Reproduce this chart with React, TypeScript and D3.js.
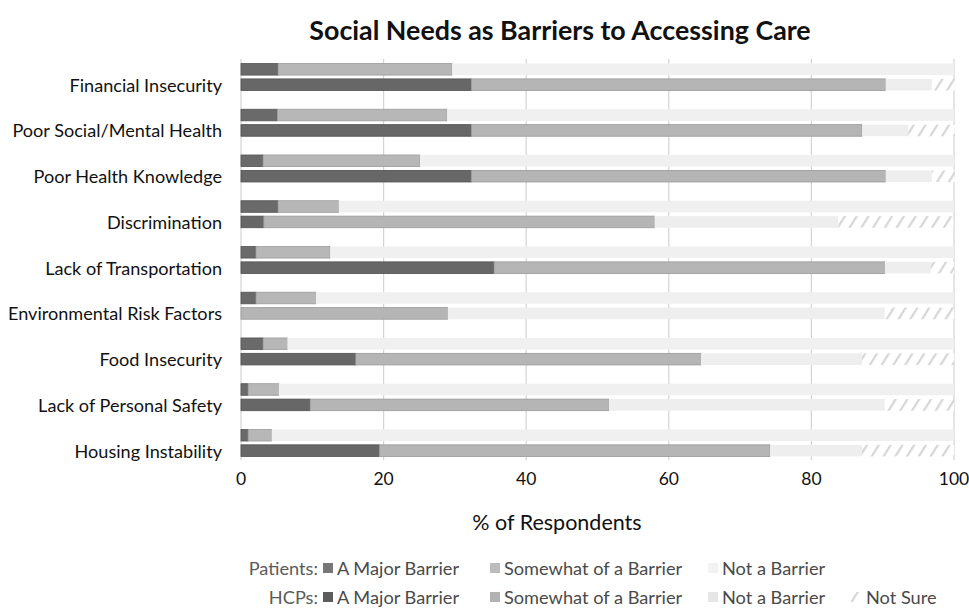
import React from "react";
import * as d3 from "d3";

const categories = [
  "Financial Insecurity",
  "Poor Social/Mental Health",
  "Poor Health Knowledge",
  "Discrimination",
  "Lack of Transportation",
  "Environmental Risk Factors",
  "Food Insecurity",
  "Lack of Personal Safety",
  "Housing Instability",
];

const patientMajor = [5.2, 5.1, 3.1, 5.2, 2.1, 2.1, 3.1, 1.0, 1.0];
const patientSomewhat = [24.4, 23.8, 22.0, 8.5, 10.4, 8.4, 3.4, 4.3, 3.3];
const patientNot = [70.4, 71.1, 74.9, 86.3, 87.5, 89.5, 93.5, 94.7, 95.7];

const hcpMajor = [32.3, 32.3, 32.3, 3.2, 35.5, 0, 16.1, 9.7, 19.4];
const hcpSomewhat = [58.1, 54.8, 58.1, 54.8, 54.8, 29.0, 48.4, 41.9, 54.8];
const hcpNot = [6.5, 6.5, 6.5, 25.8, 6.5, 61.3, 22.6, 38.7, 12.9];
const hcpNotSure = [3.2, 6.5, 3.2, 16.1, 3.2, 9.7, 12.9, 9.7, 12.9];

const xTicks = [0, 20, 40, 60, 80, 100];

const seriesKeys = ["major", "somewhat", "not", "notSure"];

const patientFill: Record<string, string> = {
  major: "#6a6a6a",
  somewhat: "#b7b7b7",
  not: "#f0f0f0",
};
const patientStroke: Record<string, string> = {
  major: "#555555",
  somewhat: "#9c9c9c",
  not: "none",
};
const hcpFill: Record<string, string> = {
  major: "#676767",
  somewhat: "#b5b5b5",
  not: "#eeeeee",
  notSure: "url(#hatch)",
};
const hcpStroke: Record<string, string> = {
  major: "#505050",
  somewhat: "#9a9a9a",
  not: "none",
  notSure: "none",
};

const FONT = "Lato, 'Open Sans', sans-serif";

export default function App() {
  const W = 969;
  const H = 608;
  const x = d3.scaleLinear().domain([0, 100]).range([241, 954]);
  const y = d3
    .scaleBand<string>()
    .domain(categories)
    .range([61.83, 473.5])
    .paddingInner(0);

  const patientRows = categories.map((c, i) => ({
    cat: c,
    major: patientMajor[i],
    somewhat: patientSomewhat[i],
    not: patientNot[i],
    notSure: 0,
  }));
  const hcpRows = categories.map((c, i) => ({
    cat: c,
    major: hcpMajor[i],
    somewhat: hcpSomewhat[i],
    not: hcpNot[i],
    notSure: hcpNotSure[i],
  }));

  const stack = d3.stack<any>().keys(seriesKeys);
  const patientStack = stack(patientRows);
  const hcpStack = stack(hcpRows);

  const barH = 11.6;
  const center = (c: string) => (y(c) as number) + y.bandwidth() / 2;

  const gridTop = 59;
  const gridBottom = 460;

  const legendRow1 = 568;
  const legendRow2 = 597;
  const legendFont = 18.2;

  return (
    <div style={{ position: "absolute", left: 0, top: 0 }}>
      <svg width={W} height={H} style={{ display: "block", background: "#ffffff" }}>
        <defs>
          <pattern
            id="hatch"
            patternUnits="userSpaceOnUse"
            width={10}
            height={10}
            patternTransform="rotate(32)"
          >
            <rect x={0} y={0} width={10} height={10} fill="#ffffff" />
            <rect x={0} y={0} width={2.2} height={10} fill="#d6d6d6" />
          </pattern>
        </defs>

        {/* title */}
        <text
          x={560}
          y={30}
          textAnchor="middle"
          dominantBaseline="central"
          fontFamily={FONT}
          fontWeight={700}
          fontSize={26.8}
          fill="#111111"
        >
          Social Needs as Barriers to Accessing Care
        </text>

        {/* gridlines */}
        {xTicks.map((t) => (
          <line
            key={"g" + t}
            x1={x(t)}
            x2={x(t)}
            y1={gridTop}
            y2={gridBottom}
            stroke="#d4d4d4"
            strokeWidth={1.2}
          />
        ))}

        {/* patient bars */}
        {patientStack.map((s) =>
          s.key === "notSure"
            ? null
            : s.map((d, i) => {
                const w = x(d[1]) - x(d[0]);
                if (w <= 0) return null;
                return (
                  <rect
                    key={"p" + s.key + i}
                    x={x(d[0])}
                    y={center(categories[i]) - 21.2}
                    width={w}
                    height={barH}
                    fill={patientFill[s.key]}
                    stroke={patientStroke[s.key]}
                    strokeWidth={0.8}
                  />
                );
              })
        )}

        {/* hcp bars */}
        {hcpStack.map((s) =>
          s.map((d, i) => {
            const w = x(d[1]) - x(d[0]);
            if (w <= 0) return null;
            return (
              <rect
                key={"h" + s.key + i}
                x={x(d[0])}
                y={center(categories[i]) - barH / 2}
                width={w}
                height={barH}
                fill={hcpFill[s.key]}
                stroke={hcpStroke[s.key]}
                strokeWidth={0.8}
              />
            );
          })
        )}

        {/* category labels */}
        {categories.map((c) => (
          <text
            key={"l" + c}
            x={222}
            y={center(c)}
            textAnchor="end"
            dominantBaseline="central"
            fontFamily={FONT}
            fontSize={18.1}
            fill="#111111"
          >
            {c}
          </text>
        ))}

        {/* tick labels */}
        {xTicks.map((t) => (
          <text
            key={"t" + t}
            x={x(t)}
            y={478}
            textAnchor="middle"
            dominantBaseline="central"
            fontFamily={FONT}
            fontSize={17.5}
            fill="#111111"
          >
            {t}
          </text>
        ))}

        {/* axis title */}
        <text
          x={557}
          y={522}
          textAnchor="middle"
          dominantBaseline="central"
          fontFamily={FONT}
          fontSize={21.5}
          fill="#111111"
        >
          % of Respondents
        </text>

        {/* legend */}
        <g fontFamily={FONT} fontSize={legendFont} fill="#4a4a4a">
          <text x={318} y={legendRow1} textAnchor="end" dominantBaseline="central" fill="#5a5a5a">
            Patients:
          </text>
          <rect x={323} y={legendRow1 - 5} width={10} height={10} fill="#777777" />
          <text x={337} y={legendRow1} dominantBaseline="central">A Major Barrier</text>
          <rect x={490} y={legendRow1 - 5} width={10} height={10} fill="#bcbcbc" />
          <text x={504} y={legendRow1} dominantBaseline="central">Somewhat of a Barrier</text>
          <rect x={708} y={legendRow1 - 5} width={10} height={10} fill="#f2f2f2" />
          <text x={722} y={legendRow1} dominantBaseline="central">Not a Barrier</text>

          <text x={318} y={legendRow2} textAnchor="end" dominantBaseline="central" fill="#5a5a5a">
            HCPs:
          </text>
          <rect x={323} y={legendRow2 - 5} width={10} height={10} fill="#5c5c5c" />
          <text x={337} y={legendRow2} dominantBaseline="central">A Major Barrier</text>
          <rect x={490} y={legendRow2 - 5} width={10} height={10} fill="#b2b2b2" />
          <text x={504} y={legendRow2} dominantBaseline="central">Somewhat of a Barrier</text>
          <rect x={708} y={legendRow2 - 5} width={10} height={10} fill="#e6e6e6" />
          <text x={722} y={legendRow2} dominantBaseline="central">Not a Barrier</text>
          <rect x={851} y={legendRow2 - 5} width={10} height={10} fill="url(#hatch)" />
          <text x={866} y={legendRow2} dominantBaseline="central">Not Sure</text>
        </g>
      </svg>
    </div>
  );
}
